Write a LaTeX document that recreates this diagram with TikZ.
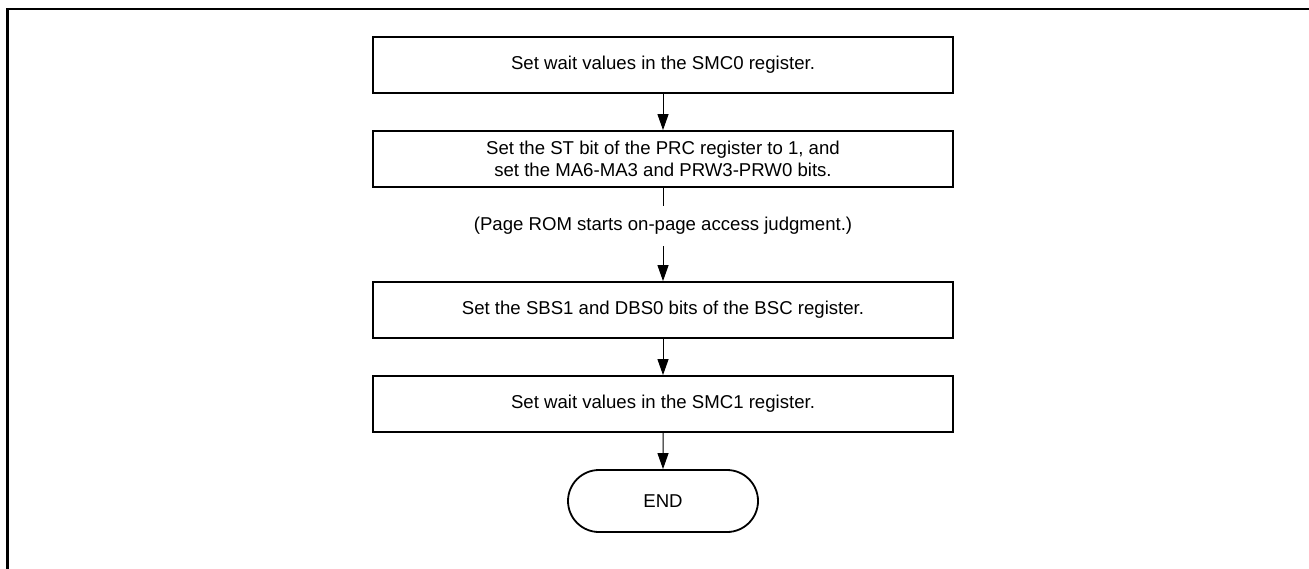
\documentclass[tikz,border=0pt]{standalone}
\usepackage{fontspec}
\setmainfont{Liberation Sans}
\usepackage{tikz}
\usetikzlibrary{positioning,arrows.meta,shapes.misc}

\begin{document}
\begin{tikzpicture}[
    x=0.5pt, y=-0.5pt,
    stepbox/.style={rectangle, draw, line width=0.9pt, minimum width=290pt, minimum height=28pt, inner sep=0pt, align=center, font=\fontsize{9.3}{11.2}\selectfont},
    endbox/.style={rounded rectangle, draw, line width=0.9pt, minimum width=95pt, minimum height=31pt, inner sep=0pt, font=\fontsize{9.3}{11.2}\selectfont},
    note/.style={minimum height=20pt, inner sep=0pt, font=\fontsize{9.3}{11.2}\selectfont},
    arrow/.style={-{Triangle[length=8pt,width=5.5pt]}, line width=0.5pt}
]
\useasboundingbox (0,0) rectangle (1309,568);

% Frame
\draw[line width=1.1pt] (7.5,580) -- (7.5,9) -- (1320,9);

% Steps
\node[stepbox] (smc0) at (663, 65) {Set wait values in the SMC0 register.};
\node[stepbox] (prc) at (663, 159) {Set the ST bit of the PRC register to 1, and\\set the MA6-MA3 and PRW3-PRW0 bits.};
\node[note] (judge) at (663, 226) {(Page ROM starts on-page access judgment.)};
\node[stepbox] (bsc) at (663, 310) {Set the SBS1 and DBS0 bits of the BSC register.};
\node[stepbox] (smc1) at (663, 404) {Set wait values in the SMC1 register.};
\node[endbox] (end) at (663, 501) {END};

% Arrows
\draw[arrow] (smc0) -- (prc);
\draw[line width=0.5pt] (prc) -- (judge);
\draw[arrow] (judge) -- (bsc);
\draw[arrow] (bsc) -- (smc1);
\draw[arrow] (smc1) -- (end);

\end{tikzpicture}
\end{document}
